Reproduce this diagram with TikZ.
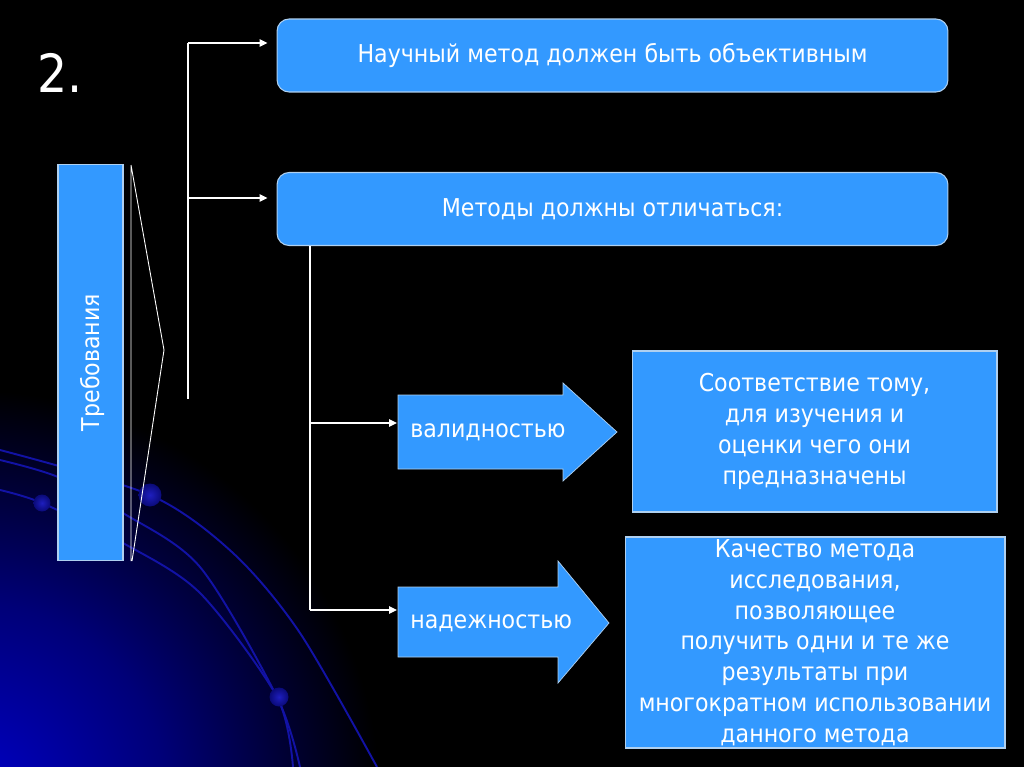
\documentclass[tikz,border=0pt]{standalone}
\usepackage{fontspec}
\usepackage{graphicx}
\setmainfont{DejaVu Sans}[FakeStretch=0.9]
\usetikzlibrary{arrows.meta}
\definecolor{boxblue}{RGB}{51,153,255}
\definecolor{edge}{RGB}{175,208,240}
\definecolor{glowblue}{RGB}{0,0,200}
\definecolor{arcblue}{RGB}{18,18,165}
\definecolor{dotblue}{RGB}{30,30,190}
\definecolor{dotdark}{RGB}{10,10,120}
\pgfdeclareradialshading{glow}{\pgfpoint{0bp}{0bp}}{color(0bp)=(glowblue); color(12bp)=(glowblue!60!black);
  color(25bp)=(black); color(50bp)=(black)}
\tikzset{
  box/.style={draw=edge,line width=0.6pt,fill=boxblue,text=white,align=center,inner sep=0pt,
    font=\fontsize{14}{17.5}\selectfont},
  rbox/.style={box,rounded corners=0.24cm},
  line/.style={white,line width=0.7pt},
  arr/.style={line,-{Triangle[length=0.16cm,width=0.15cm]}},
  arc/.style={arcblue,line width=1.1pt},
  label/.style={text=white,font=\fontsize{14}{17.5}\selectfont,inner sep=0.24cm,anchor=west}
}
\begin{document}
\begin{tikzpicture}[x=0.02cm,y=-0.02cm]
        %% background
        \fill[black] (0,0) rectangle (1024,767);
        \useasboundingbox (0,0) rectangle (1024,767);
        \begin{scope}
            \clip (0,0) rectangle (1024,767);
            \shade[shading=glow] (-30,800) circle (8.2cm);
            \draw[arc] plot[smooth] coordinates {(0,450) (150,495) (233,553) (300,633) (377,767)};
            \draw[arc] plot[smooth] coordinates {(0,460) (58,477) (123,513) (200,567) (277,697) (300,767)};
            \draw[arc] plot[smooth] coordinates {(0,490) (42,503) (123,543) (200,593) (277,697) (293,767)};
            \foreach \p/\r in {{(150,495)}/0.23cm,{(42,503)}/0.17cm,{(279,697)}/0.19cm}
                \shade[inner color=dotblue,outer color=dotdark] \p circle (\r);
        \end{scope}
        %% number
        \node[text=white,font=\fontsize{30}{30}\selectfont,anchor=base west,inner sep=0pt] (num) at (37,92) {2.};
        %% requirements
        \node[box,minimum width=1.3cm,minimum height=7.94cm] (req) at (90.5,362.5) {\rotatebox{90}{Требования}\hspace{-0.1cm}};
        \draw[line,line width=0.5pt] (131,165) -- (131,561) (131,165) -- (164,350) -- (132,561);
        %% top level
        \node[rbox,minimum width=13.42cm,minimum height=1.46cm] (sci) at (612.5,55.5) {Научный метод должен быть объективным};
        \node[rbox,minimum width=13.42cm,minimum height=1.46cm] (dif) at (612.5,209) {Методы должны отличаться:};
        \coordinate (t1) at (188,43);
        \coordinate (t2) at (188,198);
        \coordinate (t3) at (188,399);
        \draw[line] (t1) -- (t3);
        \draw[arr,shorten >=0.18cm] (t1) -- (t1 -| sci.west);
        \draw[arr,shorten >=0.18cm] (t2) -- (t2 -| dif.west);
        %% arrows
        \filldraw[fill=boxblue,draw=edge,line width=0.4pt] (398,395) -- (563,395) -- (563,383) -- (617,432)
            -- (563,481) -- (563,469) -- (398,469) -- cycle;
        \node[label] (val) at (398,432) {валидностью};
        \filldraw[fill=boxblue,draw=edge,line width=0.4pt] (398,587) -- (558,587) -- (558,561) -- (609,623)
            -- (558,683) -- (558,657) -- (398,657) -- cycle;
        \node[label] (rel) at (398,623) {надежностью};
        \coordinate (b1) at (310,423);
        \coordinate (b2) at (310,610);
        \draw[line] (dif.south -| b2) -- (b2);
        \draw[arr,shorten >=0.02cm] (b1) -- (b1 -| val.west);
        \draw[arr,shorten >=0.02cm] (b2) -- (b2 -| rel.west);
        %% definitions
        \node[box,minimum width=7.3cm,minimum height=3.22cm] (valdef) at (814.5,431.5)
            {Соответствие тому,\\для изучения и\\оценки чего они\\ предназначены};
        \node[box,minimum width=7.6cm,minimum height=4.22cm] (reldef) at (815,642.5)
            {Качество метода\\исследования,\\позволяющее\\получить одни и те же\\результаты при\\многократном использовании\\данного метода};
    \end{tikzpicture}
\end{document}
